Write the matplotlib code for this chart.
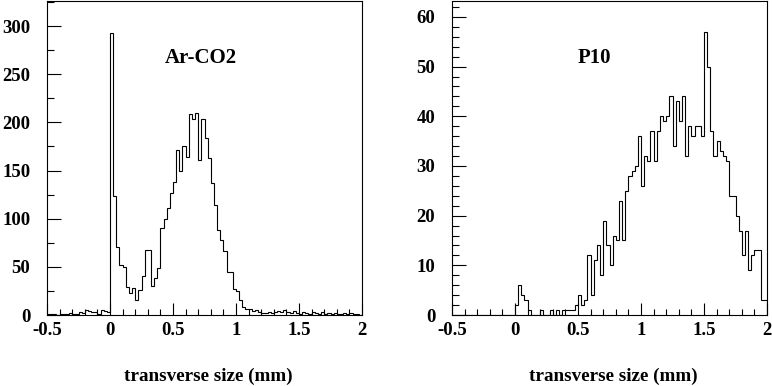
import numpy as np
import matplotlib.pyplot as plt
from matplotlib.ticker import MultipleLocator

# 100 bins of 0.025 mm between -0.5 and 2
edges = np.linspace(-0.5, 2.0, 101)

arco2_counts = [1, 1, 1, 0, 1, 1, 1, 2, 1, 1, 3, 2, 5, 4, 3, 3, 1, 5, 4, 3,
                293, 124, 71, 52, 50, 29, 23, 28, 16, 26,
                40, 67, 67, 30, 38, 49, 90, 100, 111, 127,
                138, 171, 149, 175, 164, 209, 204, 210, 161, 204,
                184, 163, 137, 114, 88, 78, 66, 45, 45, 27,
                25, 16, 8, 6, 6, 4, 5, 3, 2, 2,
                3, 2, 3, 4, 3, 5, 3, 2, 4, 2,
                1, 3, 2, 1, 3, 2, 1, 3, 1, 2,
                1, 2, 1, 1, 2, 1, 2, 1, 1, 0]

p10_counts = [0] * 20 + [
              2, 6, 4, 3, 1, 0, 0, 0, 1, 0,
              0, 1, 0, 1, 0, 1, 1, 1, 1, 2,
              4, 2, 3, 12, 4, 11, 14, 8, 19, 14,
              10, 16, 15, 23, 15, 25, 28, 29, 30, 36,
              26, 32, 31, 37, 31, 37, 40, 39, 40, 44,
              34, 43, 39, 44, 32, 38, 36, 38, 38, 36,
              57, 50, 37, 32, 35, 33, 32, 31, 24, 24,
              20, 17, 12, 17, 9, 12, 13, 13, 3, 3]

x_ticks = [-0.5, 0, 0.5, 1, 1.5, 2]
x_ticklabels = ['-0.5', '0', '0.5', '1', '1.5', '2']

plt.rcParams['font.family'] = ['Liberation Serif', 'DejaVu Serif']
plt.rcParams['font.weight'] = 'bold'

fig = plt.figure(figsize=(7.72, 3.86), dpi=100)
ax1 = fig.add_axes([47 / 772, 71 / 386, 315 / 772, 314 / 386])
ax2 = fig.add_axes([452 / 772, 71 / 386, 315 / 772, 314 / 386])


def draw_hist(ax, counts, ymax, major, minor, title, tx):
    ax.stairs(counts, edges, color='black', lw=0.8)
    ax.set_xlim(-0.5, 2.0)
    ax.set_ylim(0, ymax)
    ax.set_xticks(x_ticks)
    ax.set_xticklabels(x_ticklabels)
    ax.xaxis.set_minor_locator(MultipleLocator(0.1))
    ax.yaxis.set_major_locator(MultipleLocator(major))
    ax.yaxis.set_minor_locator(MultipleLocator(minor))
    ax.xaxis.set_tick_params(which='major', direction='in', length=8.6, width=0.8, pad=5, labelsize=13.5)
    ax.xaxis.set_tick_params(which='minor', direction='in', length=4.3, width=0.8)
    ax.yaxis.set_tick_params(which='major', direction='in', length=10, width=0.8, pad=12, labelsize=13.5)
    ax.yaxis.set_tick_params(which='minor', direction='in', length=5, width=0.8)
    for s in ax.spines.values():
        s.set_linewidth(0.8)
    ax.text(tx, 0.818, title, transform=ax.transAxes, ha='center', va='center',
            fontsize=15, fontweight='bold')
    ax.set_xlabel('transverse size (mm)', fontsize=13.8, fontweight='bold', labelpad=20.5)
    ax.xaxis.label.set_x(0.513)


draw_hist(ax1, arco2_counts, 326, 50, 25, 'Ar-CO2', 0.489)
draw_hist(ax2, p10_counts, 63.2, 10, 2, 'P10', 0.452)

fig.savefig('out.png', dpi=100)
